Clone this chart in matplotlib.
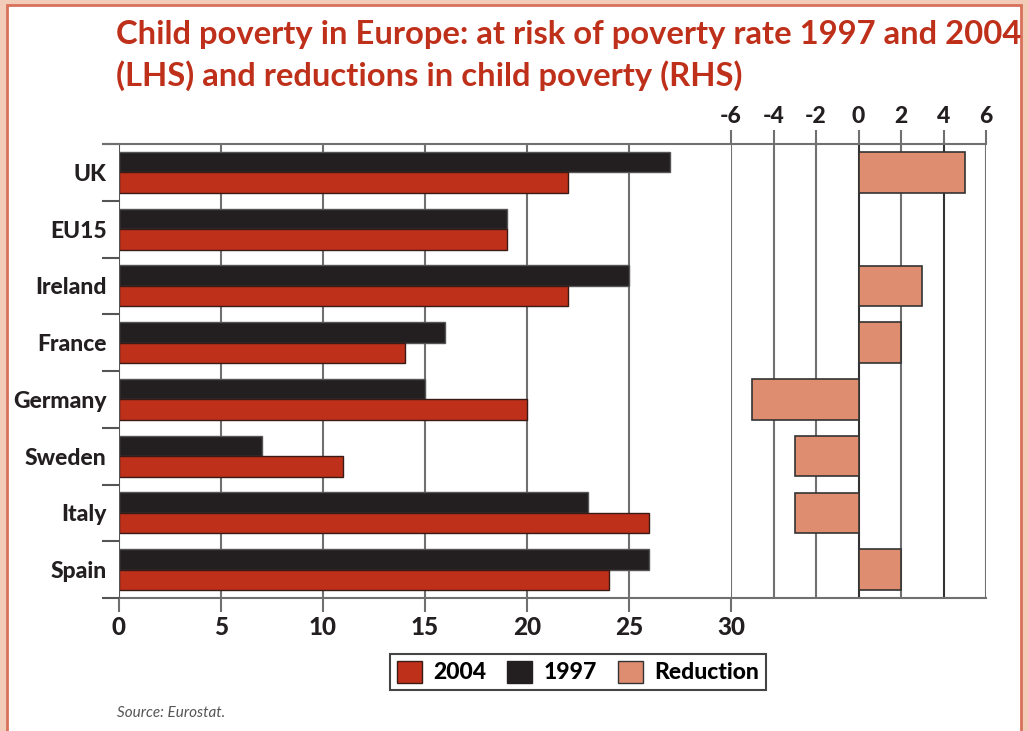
import matplotlib
matplotlib.use("Agg")
import matplotlib.pyplot as plt
from matplotlib.patches import Rectangle, Patch
from matplotlib.lines import Line2D
import numpy as np

countries = ["UK", "EU15", "Ireland", "France", "Germany", "Sweden", "Italy", "Spain"]
rate_1997 = [27, 19, 25, 16, 15, 7, 23, 26]
rate_2004 = [22, 19, 22, 14, 20, 11, 26, 24]
reduction = [5, 0, 3, 2, -5, -3, -3, 2]
left_ticks = [0, 5, 10, 15, 20, 25, 30]
right_ticks = [-6, -4, -2, 0, 2, 4, 6]

C2004 = "#bf301b"
C1997 = "#231f20"
CRED = "#de8d70"
GRID = "#707070"
TITLE = "#bf301b"
HEAVY = 900

plt.rcParams['font.family'] = ['Lato', 'DejaVu Sans']

W, H = 1028, 731
fig = plt.figure(figsize=(W / 100, H / 100), dpi=100)
fig.patch.set_facecolor("#f3cbb9")

def fx(px):
    return px / W

def fy(py):
    return 1 - py / H

# white panel with red border
fig.patches.append(Rectangle((fx(7), fy(760)), fx(1021) - fx(7), fy(5) - fy(760),
                             transform=fig.transFigure, facecolor="white",
                             edgecolor="#d8705a", linewidth=2, zorder=-5))

axL = fig.add_axes([fx(119), fy(598), fx(731) - fx(119), fy(144) - fy(598)])
axR = fig.add_axes([fx(731), fy(598), fx(986) - fx(731), fy(144) - fy(598)])

y = np.arange(len(countries))
h = 0.36
axL.barh(y - 0.18, rate_1997, height=h, color=C1997, edgecolor="#555555", linewidth=1, zorder=3)
axL.barh(y + 0.18, rate_2004, height=h, color=C2004, edgecolor="#3a1a14", linewidth=1, zorder=3)

axR.barh(y, reduction, height=0.71, color=CRED, edgecolor="#333333", linewidth=1.2, zorder=3)

for ax in (axL, axR):
    ax.set_ylim(len(countries) - 0.5, -0.5)
    ax.set_facecolor("none")
    for s in ax.spines.values():
        s.set_visible(False)

# left axis
axL.set_xlim(0, 30)
axL.set_xticks(left_ticks)
axL.set_xticklabels([str(t) for t in left_ticks], fontsize=17.5, fontweight=HEAVY, color="#231f20")
axL.tick_params(axis="x", length=10, width=1.5, color=GRID, pad=3)
axL.set_yticks(y)
axL.set_yticklabels(countries, fontsize=16.5, fontweight=HEAVY, color="#231f20")
axL.tick_params(axis="y", which="major", length=0, pad=9)
axL.set_yticks(np.arange(-0.5, len(countries), 1), minor=True)
axL.tick_params(axis="y", which="minor", length=12, width=1.5, color="#555555")
for t in left_ticks[1:-1]:
    axL.axvline(t, color=GRID, linewidth=1.5, zorder=1)
axL.axvline(0, color="#555555", linewidth=1.5, zorder=4)
axL.axhline(len(countries) - 0.5, color=GRID, linewidth=1.5, zorder=1, clip_on=False)

# right axis
axR.set_xlim(-6, 6)
axR.set_xticks(right_ticks)
axR.xaxis.tick_top()
axR.set_xticklabels([str(t) for t in right_ticks], fontsize=16.5, fontweight=HEAVY, color="#231f20")
axR.tick_params(axis="x", length=10, width=1.5, color=GRID, pad=2)
axR.set_yticks([])
for t in right_ticks:
    axR.axvline(t, color=("#333333" if t in (0, 4) else GRID), linewidth=1.5, zorder=1)
axR.axhline(len(countries) - 0.5, color=GRID, linewidth=1.5, zorder=1, clip_on=False)

# top line across the whole chart
fig.add_artist(Line2D([fx(103), fx(986)], [fy(144), fy(144)], transform=fig.transFigure,
                      color=GRID, linewidth=1.5))

# title
fig.text(fx(116), fy(20),
         "Child poverty in Europe: at risk of poverty rate 1997 and 2004\n(LHS) and reductions in child poverty (RHS)",
         ha="left", va="top", fontsize=23.6, fontweight="bold", color=TITLE, linespacing=1.45)

# legend
handles = [Patch(facecolor=C2004, edgecolor="#3a1a14", label="2004"),
           Patch(facecolor=C1997, edgecolor=C1997, label="1997"),
           Patch(facecolor=CRED, edgecolor="#333333", label="Reduction")]
leg = fig.legend(handles=handles, loc="center", bbox_to_anchor=(fx(578), fy(672)), ncol=3,
                 frameon=True, fancybox=False, edgecolor="#444444", framealpha=1,
                 prop={"family": ["Lato", "DejaVu Sans"], "weight": HEAVY, "size": 16.5},
                 handlelength=1.1, handleheight=1.1, handletextpad=0.5, columnspacing=0.9,
                 borderpad=0.3)
leg.get_frame().set_linewidth(1.5)

fig.text(fx(117), fy(713), "Source: Eurostat.", fontsize=11, style="italic", color="#555555",
         ha="left", va="center")

fig.savefig("out.png", dpi=100, facecolor=fig.get_facecolor())
